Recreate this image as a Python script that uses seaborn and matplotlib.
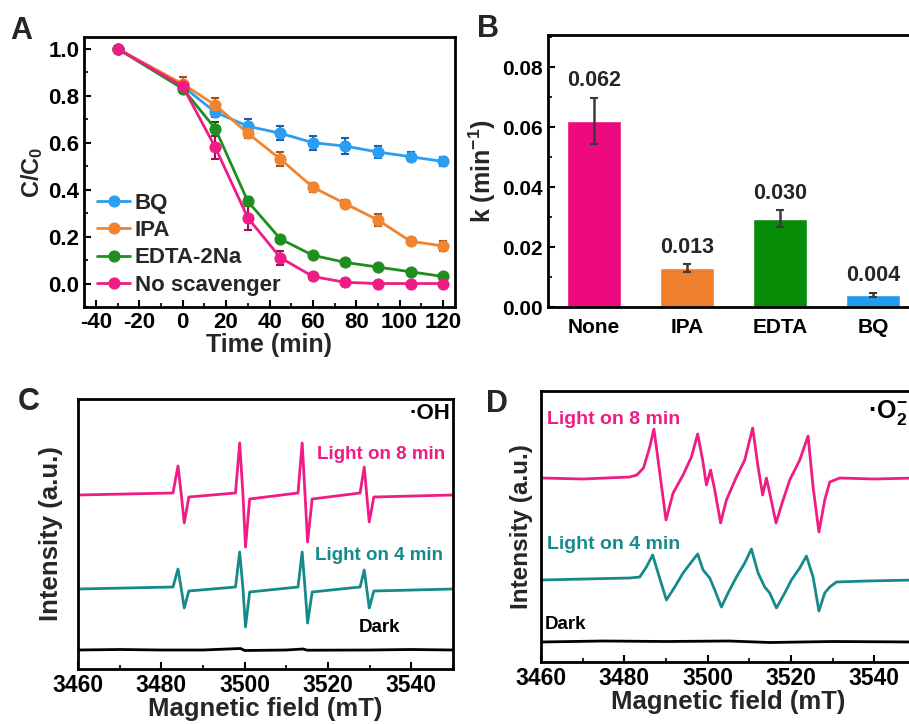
import matplotlib
matplotlib.use("Agg")
import matplotlib.pyplot as plt
import seaborn as sns
from matplotlib.ticker import MultipleLocator

# A. degradation curves with scavengers
time_min = [-30, 0, 15, 30, 45, 60, 75, 90, 105, 120]
bq = [1.0, 0.84, 0.73, 0.67, 0.64, 0.60, 0.585, 0.56, 0.54, 0.52]
bq_err = [0, 0.02, 0.02, 0.03, 0.03, 0.03, 0.035, 0.025, 0.02, 0.02]
ipa = [1.0, 0.85, 0.76, 0.64, 0.53, 0.41, 0.34, 0.27, 0.18, 0.16]
ipa_err = [0, 0.03, 0.03, 0.02, 0.03, 0.02, 0.015, 0.025, 0.015, 0.02]
edta = [1.0, 0.83, 0.66, 0.35, 0.19, 0.12, 0.09, 0.07, 0.05, 0.03]
edta_err = [0, 0.02, 0.03, 0.02, 0.01, 0.01, 0.01, 0.01, 0.01, 0.01]
none = [1.0, 0.84, 0.58, 0.28, 0.11, 0.03, 0.005, 0.0, 0.0, 0.0]
none_err = [0, 0.02, 0.05, 0.05, 0.03, 0.015, 0.015, 0.01, 0.01, 0.01]
series_names = ["BQ", "IPA", "EDTA-2Na", "No scavenger"]

# B. rate constants
k_cats = ["None", "IPA", "EDTA", "BQ"]
k_vals = [0.062, 0.013, 0.0295, 0.004]
k_err = [0.0078, 0.0013, 0.0028, 0.0007]
k_labels = ["0.062", "0.013", "0.030", "0.004"]

# C. DMPO-OH spectra (key points)
c_field = [3460, 3482.8, 3484.0, 3484.8, 3485.5, 3486.6, 3497.8, 3498.8, 3499.6,
           3500.2, 3501.2, 3512.8, 3513.8, 3514.5, 3515.1, 3516.2, 3527.7, 3528.7,
           3529.3, 3529.9, 3531.0, 3550]
c_8min = [174, 176, 203, 174, 146, 172, 176, 226, 174, 122, 170, 176, 226, 174,
          127, 170, 176, 202, 174, 147, 172, 174]
c_4min = [80, 82, 100, 80, 61, 78, 82, 117, 80, 42, 77, 82, 117, 80, 46, 77, 82,
          99, 80, 61, 78, 80]
c_dark_field = [3460, 3470, 3480, 3490, 3499, 3500, 3510, 3514, 3515, 3530, 3540, 3550]
c_dark = [19, 19.5, 19, 19, 20.5, 18.5, 19, 20, 18.8, 19, 19.5, 19]

# D. DMPO-O2 spectra
d8_field = [3460, 3470, 3481.3, 3483.0, 3484.6, 3486.1, 3487.1, 3488.1, 3490.0,
            3491.7, 3494.1, 3496.1, 3497.6, 3498.8, 3499.7, 3500.7, 3501.7, 3503.1,
            3504.5, 3506.9, 3508.9, 3510.8, 3512.1, 3513.2, 3514.1, 3514.9, 3516.4,
            3518.1, 3519.7, 3522.1, 3524.1, 3525.3, 3526.7, 3528.1, 3529.3, 3531.7,
            3540, 3550]
d_8min = [184, 183, 185, 187, 194, 215, 233, 202, 142, 169, 187, 205, 228, 202, 177,
          192, 172, 139, 162, 185, 202, 234, 195, 167, 184, 169, 139, 162, 182, 202,
          226, 175, 130, 162, 180, 184, 183, 184]
d4_field = [3460, 3481.3, 3483.7, 3485.3, 3486.8, 3488.1, 3490.1, 3492.1, 3494.1,
            3496.1, 3497.6, 3498.9, 3500.5, 3501.7, 3503.3, 3504.9, 3506.9, 3508.9,
            3510.5, 3512.1, 3513.7, 3514.9, 3516.5, 3518.5, 3520.1, 3522.1, 3523.7,
            3525.3, 3526.7, 3528.1, 3529.3, 3530.9, 3538.1, 3550]
d_4min = [82, 84, 85, 95, 107, 89, 62, 75, 89, 100, 108, 92, 84, 72, 55, 69, 85, 99,
          113, 89, 75, 69, 54, 69, 82, 94, 106, 85, 51, 69, 75, 80, 81, 82]
d_dark_field = [3460, 3475, 3490, 3505, 3515, 3530, 3550]
d_dark = [20, 21, 20.5, 21, 19.5, 20.5, 20]

sns.set_theme(style="ticks")
plt.rcParams["font.family"] = ["Liberation Sans", "DejaVu Sans"]
plt.rcParams["font.weight"] = "bold"
plt.rcParams["axes.labelweight"] = "bold"
plt.rcParams["axes.unicode_minus"] = False
plt.rcParams["mathtext.fontset"] = "custom"
plt.rcParams["mathtext.rm"] = "Liberation Sans:bold"
plt.rcParams["mathtext.it"] = "Liberation Sans:bold"
plt.rcParams["mathtext.bf"] = "Liberation Sans:bold"
plt.rcParams["mathtext.default"] = "rm"

W, H = 909, 724
fig = plt.figure(figsize=(W / 100, H / 100), dpi=100)


def rect(l, t, r, b):
    return [l / W, 1 - b / H, (r - l) / W, (b - t) / H]


def style_axes(ax, size=15):
    for s in ax.spines.values():
        s.set_linewidth(2)
        s.set_color("black")
    ax.tick_params(which="major", direction="in", length=5, width=1.5,
                   labelsize=size, colors="black")
    ax.tick_params(which="minor", direction="in", length=3, width=1.5)


pink = "#EE1C84"
teal = "#168A8A"

# ---- A
axA = fig.add_axes(rect(84, 37, 455, 307))
colors = ["#2B9DF2", "#F08430", "#1E8F1E", "#EE1C84"]
dark = ["#1B5FA0", "#9A5320", "#115A11", "#9A1055"]
for name, vals, err, c, dc in zip(series_names, [bq, ipa, edta, none],
                                  [bq_err, ipa_err, edta_err, none_err], colors, dark):
    axA.errorbar(time_min, vals, yerr=err, fmt="none", ecolor=dc, capsize=3,
                 elinewidth=1.5, capthick=1.5, zorder=2)
    sns.lineplot(x=time_min, y=vals, ax=axA, color=c, marker="o", markersize=8,
                 markeredgecolor=c, linewidth=2, label=name, zorder=3)
axA.set_xlim(-45.5, 125.5)
axA.set_ylim(-0.1, 1.05)
axA.xaxis.set_major_locator(MultipleLocator(20))
axA.xaxis.set_minor_locator(MultipleLocator(10))
axA.yaxis.set_major_locator(MultipleLocator(0.2))
axA.yaxis.set_minor_locator(MultipleLocator(0.1))
axA.yaxis.set_major_formatter(plt.FormatStrFormatter("%.1f"))
style_axes(axA, 16)
axA.set_xlabel("Time (min)", fontsize=18, labelpad=0)
axA.set_ylabel("C/C$_0$", fontsize=17, labelpad=2)
axA.legend(loc="lower left", bbox_to_anchor=(0.035, 0.042), frameon=False,
           fontsize=16, handlelength=1.5, handletextpad=0.2, labelspacing=0.28,
           borderpad=0, borderaxespad=0)

# ---- B
axB = fig.add_axes(rect(548, 35, 912, 307))
sns.barplot(x=k_cats, y=k_vals, hue=k_cats, palette=["#EC0A7E", "#EE7F2D", "#078C07", "#1E9CF0"],
            width=0.58, saturation=1, errorbar=None, legend=False, ax=axB, zorder=2)
axB.errorbar(range(len(k_vals)), k_vals, yerr=k_err, fmt="none", ecolor="#3a3a3a",
             capsize=3, elinewidth=1.8, capthick=1.5, zorder=3)
for i, (v, e, lab) in enumerate(zip(k_vals, k_err, k_labels)):
    axB.text(i, v + e + 0.0022, lab, ha="center", va="bottom", fontsize=15.5,
             fontweight="bold")
axB.set_xlim(-0.495, 3.419)
axB.set_ylim(0, 0.0907)
axB.yaxis.set_major_locator(MultipleLocator(0.02))
axB.yaxis.set_minor_locator(MultipleLocator(0.01))
axB.yaxis.set_major_formatter(plt.FormatStrFormatter("%.2f"))
style_axes(axB)
axB.tick_params(axis="x", labelsize=15, pad=8)
axB.set_ylabel("k (min$^{-1}$)", fontsize=18, labelpad=3)
axB.set_xlabel("")

# ---- C
axC = fig.add_axes(rect(78, 399, 453, 669))
sns.lineplot(x=c_field, y=c_8min, ax=axC, color=pink, linewidth=2, sort=False)
sns.lineplot(x=c_field, y=c_4min, ax=axC, color=teal, linewidth=2, sort=False)
sns.lineplot(x=c_dark_field, y=c_dark, ax=axC, color="black", linewidth=2, sort=False)
axC.set_xlim(3460, 3550)
axC.set_ylim(0, 270)
axC.set_yticks([])
axC.xaxis.set_major_locator(MultipleLocator(20))
axC.xaxis.set_minor_locator(MultipleLocator(10))
style_axes(axC, 16.5)
axC.set_xlabel("Magnetic field (mT)", fontsize=18.5, labelpad=0)
axC.set_ylabel("Intensity (a.u.)", fontsize=18.5, labelpad=11)
axC.text(0.992, 0.948, "·OH", transform=axC.transAxes, ha="right", va="center",
         fontsize=16, color="black")
axC.text(0.979, 0.796, "Light on 8 min", transform=axC.transAxes, ha="right",
         va="center", fontsize=13.5, color=pink)
axC.text(0.973, 0.419, "Light on 4 min", transform=axC.transAxes, ha="right",
         va="center", fontsize=13.5, color=teal)
axC.text(0.805, 0.152, "Dark", transform=axC.transAxes, ha="center",
         va="center", fontsize=13.5, color="black")

# ---- D
axD = fig.add_axes(rect(541, 391, 916, 662))
sns.lineplot(x=d8_field, y=d_8min, ax=axD, color=pink, linewidth=2, sort=False)
sns.lineplot(x=d4_field, y=d_4min, ax=axD, color=teal, linewidth=2, sort=False)
sns.lineplot(x=d_dark_field, y=d_dark, ax=axD, color="black", linewidth=2, sort=False)
axD.set_xlim(3460, 3550)
axD.set_ylim(0, 271)
axD.set_yticks([])
axD.xaxis.set_major_locator(MultipleLocator(20))
axD.xaxis.set_minor_locator(MultipleLocator(10))
style_axes(axD, 16.5)
axD.set_xlabel("Magnetic field (mT)", fontsize=18.5, labelpad=0)
axD.set_ylabel("Intensity (a.u.)", fontsize=17.5, labelpad=6)
axD.text(0.872, 0.919, "·O$_2^{-}$", transform=axD.transAxes, ha="left",
         va="center", fontsize=18, color="black")
axD.text(0.016, 0.893, "Light on 8 min", transform=axD.transAxes, ha="left",
         va="center", fontsize=14, color=pink)
axD.text(0.016, 0.432, "Light on 4 min", transform=axD.transAxes, ha="left",
         va="center", fontsize=14, color=teal)
axD.text(0.011, 0.137, "Dark", transform=axD.transAxes, ha="left",
         va="center", fontsize=13.5, color="black")

# panel letters
for lab, x, y in [("A", 10, 39), ("B", 477, 37), ("C", 18, 410), ("D", 486, 412)]:
    fig.text(x / W, 1 - y / H, lab, fontsize=22, fontweight="bold", va="baseline")

fig.savefig("out.png", dpi=100)
